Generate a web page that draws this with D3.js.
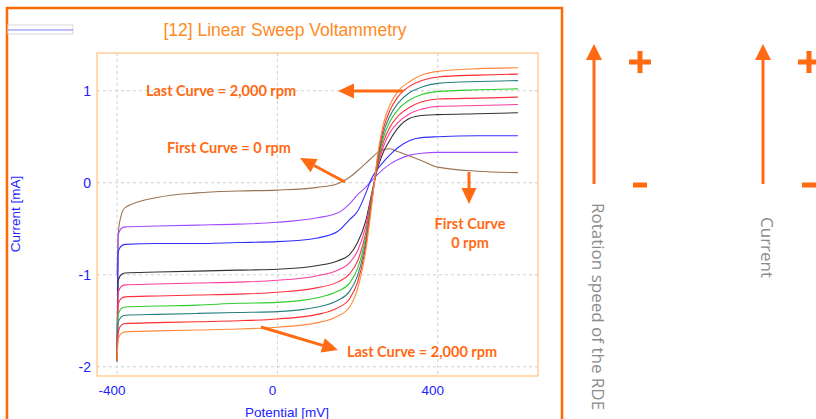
<!DOCTYPE html>
<meta charset="utf-8">
<head>
    <title>Linear Sweep Voltammetry</title>
    <script type="text/javascript" src="https://cdn.jsdelivr.net/npm/d3@7"></script>
    <style>
        html, body { margin: 0; padding: 0; background: white; }
        #chart { width: 816px; height: 419px; }
        .tick-label { font-family: "Liberation Sans", Arial, sans-serif; font-size: 13.5px; fill: #2222ff; }
        .note { font-family: Lato, "Open Sans", sans-serif; font-weight: bold; font-size: 14.5px; fill: #ff6a13; }
        .side { font-family: "Open Sans", "Noto Sans", sans-serif; font-size: 17px; fill: #8c8c8c; }
    </style>
</head>
<body>
<div id="chart"></div>
<script>
    // potentials (mV) shared by every sweep
    var potentials = [-400, -397, -390, -380, -300, -200, -100, 0, 100, 150, 180, 200, 220, 235, 250, 265, 280, 300, 330, 360, 400, 500, 600];

    // currents (mA), one list per rotation speed
    var curve0rpm   = [-1.00, -0.55, -0.36, -0.27, -0.16, -0.11, -0.09, -0.08, -0.05, -0.01, 0.06, 0.13, 0.21, 0.27, 0.33, 0.36, 0.37, 0.34, 0.29, 0.24, 0.17, 0.125, 0.11];
    var curvePurple = [-1.95, -0.56, -0.50, -0.48, -0.47, -0.46, -0.45, -0.43, -0.38, -0.33, -0.23, -0.13, -0.05, 0.02, 0.09, 0.15, 0.20, 0.25, 0.30, 0.32, 0.33, 0.33, 0.33];
    var curveBlue   = [-1.93, -0.75, -0.69, -0.67, -0.66, -0.66, -0.65, -0.64, -0.60, -0.53, -0.40, -0.31, -0.12, 0.05, 0.15, 0.23, 0.30, 0.38, 0.46, 0.49, 0.50, 0.51, 0.51];
    var curveBlack  = [-1.93, -1.06, -1.00, -0.98, -0.97, -0.96, -0.95, -0.94, -0.90, -0.85, -0.78, -0.65, -0.42, -0.12, 0.16, 0.34, 0.46, 0.59, 0.70, 0.73, 0.74, 0.75, 0.76];
    var curvePink   = [-1.93, -1.19, -1.13, -1.11, -1.10, -1.09, -1.08, -1.06, -1.01, -0.95, -0.87, -0.74, -0.48, -0.14, 0.18, 0.40, 0.54, 0.65, 0.75, 0.80, 0.83, 0.84, 0.85];
    var curveRed    = [-1.93, -1.32, -1.26, -1.24, -1.23, -1.22, -1.21, -1.19, -1.14, -1.08, -0.99, -0.85, -0.55, -0.16, 0.20, 0.45, 0.60, 0.72, 0.82, 0.88, 0.91, 0.92, 0.93];
    var curveGreen  = [-1.93, -1.43, -1.37, -1.35, -1.34, -1.33, -1.31, -1.30, -1.25, -1.18, -1.09, -0.93, -0.60, -0.18, 0.22, 0.50, 0.66, 0.79, 0.90, 0.96, 0.99, 1.01, 1.02];
    var curveTeal   = [-1.93, -1.52, -1.46, -1.44, -1.43, -1.42, -1.41, -1.40, -1.35, -1.28, -1.18, -1.01, -0.65, -0.20, 0.24, 0.55, 0.72, 0.86, 0.98, 1.04, 1.08, 1.10, 1.11];
    var curveRed2   = [-1.93, -1.62, -1.55, -1.53, -1.52, -1.51, -1.50, -1.48, -1.43, -1.36, -1.26, -1.08, -0.70, -0.22, 0.27, 0.60, 0.78, 0.93, 1.05, 1.11, 1.15, 1.17, 1.18];
    var curve2000   = [-1.93, -1.70, -1.64, -1.62, -1.61, -1.60, -1.59, -1.57, -1.52, -1.45, -1.35, -1.15, -0.75, -0.25, 0.30, 0.65, 0.84, 0.99, 1.10, 1.17, 1.21, 1.24, 1.25];

    var curves = [curve0rpm, curvePurple, curveBlue, curveBlack, curvePink, curveRed, curveGreen, curveTeal, curveRed2, curve2000];
    var curveColors = ["#9a7352", "#a04cff", "#3030ff", "#333333", "#ff3d9e", "#ff3040", "#2fcc2f", "#2a8080", "#ff2a2a", "#ff8a3d"];

    var xTicks = [-400, 0, 400];
    var yTicks = [1, 0, -1, -2];

    var svg = d3.select("#chart").append("svg")
        .attr("width", 816)
        .attr("height", 419);

    // outer frame of the graph window
    svg.append("rect")
        .attr("x", 7).attr("y", 8).attr("width", 555).attr("height", 460)
        .attr("fill", "none").attr("stroke", "#ff6a00").attr("stroke-width", 2.5);

    // small legend stub in the corner
    svg.append("rect")
        .attr("x", 8).attr("y", 25).attr("width", 65).attr("height", 9)
        .attr("fill", "white").attr("stroke", "#d8d8d8");
    svg.append("line")
        .attr("x1", 8).attr("x2", 73).attr("y1", 30).attr("y2", 30)
        .attr("stroke", "#7f7fff").attr("stroke-width", 1.2);

    svg.append("text")
        .attr("x", 285).attr("y", 36)
        .attr("text-anchor", "middle")
        .style("font-family", "'Liberation Sans', Arial, sans-serif")
        .style("font-size", "17.5px")
        .style("fill", "#ff8a1f")
        .text("[12] Linear Sweep Voltammetry");

    var x = d3.scaleLinear().domain([-450, 650]).range([97, 538]);
    var y = d3.scaleLinear().domain([-2.1, 1.41]).range([376, 53]);

    // grid
    svg.append("g").selectAll("line").data(xTicks).enter().append("line")
        .attr("x1", d => x(d)).attr("x2", d => x(d))
        .attr("y1", 53).attr("y2", 376)
        .attr("stroke", "#cfcfcf").attr("stroke-dasharray", "3,3");
    svg.append("g").selectAll("line").data(yTicks).enter().append("line")
        .attr("x1", 97).attr("x2", 538)
        .attr("y1", d => y(d)).attr("y2", d => y(d))
        .attr("stroke", "#cfcfcf").attr("stroke-dasharray", "3,3");

    // tick labels
    svg.append("g").selectAll("text").data(xTicks).enter().append("text")
        .attr("class", "tick-label")
        .attr("x", d => x(d) - 5).attr("y", 395)
        .attr("text-anchor", "middle")
        .text(d => d);
    svg.append("g").selectAll("text").data(yTicks).enter().append("text")
        .attr("class", "tick-label")
        .style("font-size", "14px")
        .attr("x", 91).attr("y", d => y(d) + 5)
        .attr("text-anchor", "end")
        .text(d => d);

    svg.append("text").attr("class", "tick-label")
        .attr("x", 287).attr("y", 417).attr("text-anchor", "middle")
        .text("Potential [mV]");
    svg.append("text").attr("class", "tick-label")
        .attr("transform", "translate(20,214) rotate(-90)")
        .attr("text-anchor", "middle")
        .text("Current [mA]");

    svg.append("clipPath").attr("id", "plotClip")
        .append("rect").attr("x", 97).attr("y", 53).attr("width", 441).attr("height", 323);

    var line = d3.line()
        .x((d, i) => x(potentials[i]))
        .y(d => y(d))
        .curve(d3.curveMonotoneX);

    svg.append("g").attr("clip-path", "url(#plotClip)")
        .selectAll("path").data(curves).enter().append("path")
        .attr("d", line)
        .attr("fill", "none")
        .attr("stroke", (d, i) => curveColors[i])
        .attr("stroke-width", 1.1);

    // plot border
    svg.append("rect")
        .attr("x", 97).attr("y", 53).attr("width", 441).attr("height", 323)
        .attr("fill", "none").attr("stroke", "#ffb566").attr("stroke-width", 1);

    // annotations
    var orange = "#ff6a13";
    function arrow(x1, y1, x2, y2, head, w) {
        var ang = Math.atan2(y2 - y1, x2 - x1);
        var bx = x2 - head * Math.cos(ang), by = y2 - head * Math.sin(ang);
        svg.append("line")
            .attr("x1", x1).attr("y1", y1).attr("x2", bx).attr("y2", by)
            .attr("stroke", orange).attr("stroke-width", 3);
        var px = -Math.sin(ang) * w / 2, py = Math.cos(ang) * w / 2;
        svg.append("polygon")
            .attr("points", [[x2, y2], [bx + px, by + py], [bx - px, by - py]].map(p => p.join(",")).join(" "))
            .attr("fill", orange);
    }

    svg.append("text").attr("class", "note").attr("x", 221).attr("y", 96)
        .attr("text-anchor", "middle").text("Last Curve = 2,000 rpm");
    arrow(403, 91, 338, 91, 16, 15);

    svg.append("text").attr("class", "note").attr("x", 229).attr("y", 153)
        .attr("text-anchor", "middle").text("First Curve = 0 rpm");
    arrow(345, 182, 300, 158, 16, 15);

    arrow(469, 172, 469, 204, 16, 15);
    svg.append("text").attr("class", "note").attr("x", 470).attr("y", 229)
        .attr("text-anchor", "middle").text("First Curve");
    svg.append("text").attr("class", "note").attr("x", 470).attr("y", 248)
        .attr("text-anchor", "middle").text("0 rpm");

    arrow(261, 327, 338, 350, 16, 15);
    svg.append("text").attr("class", "note").attr("x", 422).attr("y", 357)
        .attr("text-anchor", "middle").text("Last Curve = 2,000 rpm");

    // side explanation arrows
    var sideLabels = ["Rotation speed of the RDE", "Current"];
    var sideX = [594, 763];
    sideX.forEach(function(sx, i) {
        arrow(sx, 184, sx, 44, 16, 16);
        svg.append("rect").attr("x", sx + 35).attr("y", 59.5).attr("width", 22).attr("height", 5).attr("fill", orange);
        svg.append("rect").attr("x", sx + 43.5).attr("y", 51).attr("width", 5).attr("height", 22).attr("fill", orange);
        svg.append("rect").attr("x", sx + 39).attr("y", 182.5).attr("width", 14).attr("height", 5).attr("fill", orange);
        svg.append("text").attr("class", "side")
            .attr("transform", "translate(" + (sx - 2) + "," + (i === 0 ? 203 : 217) + ") rotate(90)")
            .text(sideLabels[i]);
    });
</script>
</body>
</html>
